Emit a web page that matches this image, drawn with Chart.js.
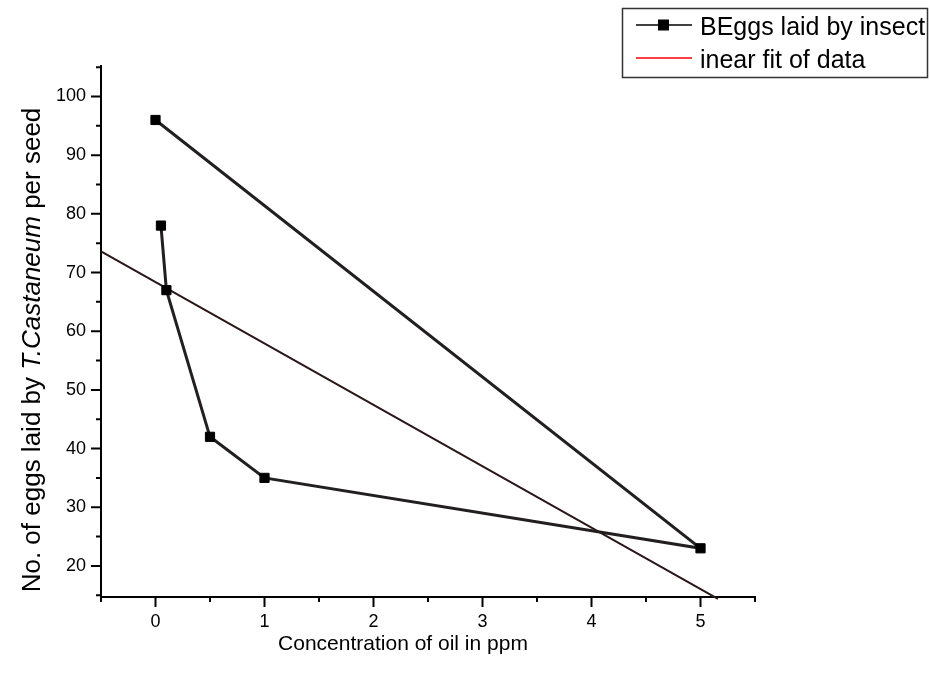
<!DOCTYPE html>
<html lang="en">
<head>
<meta charset="UTF-8">
<title>Eggs laid by T. Castaneum</title>
<script src="https://cdn.jsdelivr.net/npm/chart.js"></script>
<style>
  body { margin: 0; background: #ffffff; }
  .chart-box { width: 930px; height: 675px; }
</style>
</head>
<body>
<div class="chart-box"><canvas id="eggsChart" width="930" height="675"></canvas></div>
<script>
// concentration (ppm) and eggs per seed, in the order the curve was drawn
const concentration = [0.05, 0.1, 0.5, 1, 5, 0];
const eggsLaid = [78, 67, 42, 35, 23, 96];

// linear fit line, ends
const fitX = [-0.5, 5.16];
const fitY = [73.6, 14.4];

const xTicks = [0, 1, 2, 3, 4, 5];
const yTicks = [20, 30, 40, 50, 60, 70, 80, 90, 100];
const xMinorTicks = [-0.5, 0.5, 1.5, 2.5, 3.5, 4.5, 5.5];
const yMinorTicks = [15, 25, 35, 45, 55, 65, 75, 85, 95, 105];

const seriesLabels = ['BEggs laid by insect', 'inear fit of data'];

const FONT = "'Liberation Sans', Arial, sans-serif";
const INK = '#231f20';

// tick marks: major long, minor short, pointing out of the plot
const tickMarks = {
    id: 'tickMarks',
    afterDraw(chart) {
        const ctx = chart.ctx;
        const x = chart.scales.x, y = chart.scales.y;
        const area = chart.chartArea;
        ctx.save();
        ctx.strokeStyle = '#000';
        ctx.lineWidth = 2;
        ctx.beginPath();
        xTicks.forEach(v => { const p = x.getPixelForValue(v); ctx.moveTo(p, area.bottom); ctx.lineTo(p, area.bottom + 10); });
        xMinorTicks.forEach(v => { const p = x.getPixelForValue(v); ctx.moveTo(p, area.bottom); ctx.lineTo(p, area.bottom + 5); });
        yTicks.forEach(v => { const p = y.getPixelForValue(v); ctx.moveTo(area.left, p); ctx.lineTo(area.left - 10, p); });
        yMinorTicks.forEach(v => { const p = y.getPixelForValue(v); ctx.moveTo(area.left, p); ctx.lineTo(area.left - 5, p); });
        ctx.stroke();
        ctx.restore();
    }
};

// axis titles (y title has an italic species name)
const axisTitles = {
    id: 'axisTitles',
    afterDraw(chart) {
        const ctx = chart.ctx;
        ctx.save();
        ctx.fillStyle = '#000';
        ctx.textBaseline = 'alphabetic';
        ctx.font = '21px ' + FONT;
        ctx.textAlign = 'center';
        ctx.fillText('Concentration of oil in ppm', 403, 650);

        const parts = [
            ['No. of eggs laid by ', '26px ' + FONT],
            ['T.Castaneum', 'italic 26px ' + FONT],
            [' per seed', '26px ' + FONT]
        ];
        let total = 0;
        parts.forEach(p => { ctx.font = p[1]; total += ctx.measureText(p[0]).width; });
        ctx.translate(40, 350);
        ctx.rotate(-Math.PI / 2);
        ctx.textAlign = 'left';
        let cx = -total / 2;
        parts.forEach(p => { ctx.font = p[1]; ctx.fillText(p[0], cx, 0); cx += ctx.measureText(p[0]).width; });
        ctx.restore();
    }
};

// boxed legend in the top right corner
const boxLegend = {
    id: 'boxLegend',
    afterDraw(chart) {
        const ctx = chart.ctx;
        ctx.save();
        ctx.strokeStyle = '#333';
        ctx.lineWidth = 1.5;
        ctx.strokeRect(622.5, 8.5, 305, 69);

        const sets = chart.data.datasets;
        const rows = [25, 58];
        ctx.font = '25px ' + FONT;
        ctx.textBaseline = 'middle';
        sets.forEach((ds, i) => {
            const yy = rows[i];
            ctx.strokeStyle = ds.legendColor;
            ctx.lineWidth = 1.5;
            ctx.beginPath();
            ctx.moveTo(636, yy);
            ctx.lineTo(692, yy);
            ctx.stroke();
            if (i === 0) {
                ctx.fillStyle = '#000';
                ctx.fillRect(658, yy - 5.5, 11, 11);
            }
            ctx.fillStyle = '#000';
            ctx.fillText(seriesLabels[i], 700, yy + 3);
        });
        ctx.restore();
    }
};

new Chart(document.getElementById('eggsChart'), {
    type: 'scatter',
    data: {
        datasets: [{
            label: seriesLabels[0],
            data: concentration.map((c, i) => ({ x: c, y: eggsLaid[i] })),
            showLine: true,
            borderColor: INK,
            borderWidth: 3,
            pointStyle: 'rect',
            pointRadius: 6.5,
            pointBackgroundColor: '#000',
            pointBorderColor: '#000',
            pointBorderWidth: 1,
            legendColor: '#000',
            order: 0
        }, {
            label: seriesLabels[1],
            data: fitX.map((v, i) => ({ x: v, y: fitY[i] })),
            showLine: true,
            borderColor: '#2a1616',
            borderWidth: 2,
            pointRadius: 0,
            legendColor: '#ff0000',
            clip: false,
            order: 1
        }]
    },
    options: {
        responsive: false,
        animation: false,
        devicePixelRatio: 1,
        layout: { padding: { top: 66, right: 175, left: 0, bottom: 0 } },
        plugins: {
            legend: { display: false },
            tooltip: { enabled: false }
        },
        scales: {
            x: {
                type: 'linear',
                min: -0.5,
                max: 5.5,
                afterBuildTicks: s => { s.ticks = xTicks.map(v => ({ value: v })); },
                afterFit: s => { s.height = 78; },
                grid: { display: false },
                border: { display: true, color: '#000', width: 2 },
                ticks: { color: '#000', padding: 6, font: { family: FONT, size: 18 } }
            },
            y: {
                type: 'linear',
                min: 14.7,
                max: 105.2,
                afterBuildTicks: s => { s.ticks = yTicks.map(v => ({ value: v })); },
                afterFit: s => { s.width = 101; },
                grid: { display: false },
                border: { display: true, color: '#000', width: 2 },
                ticks: { color: '#000', padding: 7, font: { family: FONT, size: 18 } }
            }
        }
    },
    plugins: [tickMarks, axisTitles, boxLegend]
});
</script>
</body>
</html>
